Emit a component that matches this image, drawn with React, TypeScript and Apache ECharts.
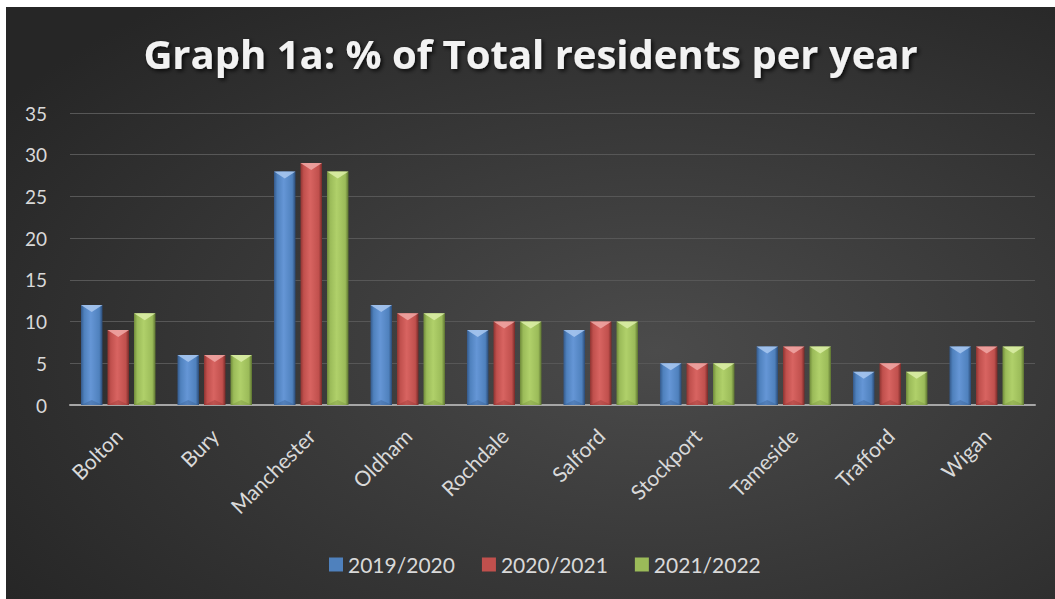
import React, { useEffect, useRef } from "react";
import * as echarts from "echarts";

const categories = ["Bolton", "Bury", "Manchester", "Oldham", "Rochdale", "Salford", "Stockport", "Tameside", "Trafford", "Wigan"];
const seriesNames = ["2019/2020", "2020/2021", "2021/2022"];
const values2019 = [12, 6, 28, 12, 9, 9, 5, 7, 4, 7];
const values2020 = [9, 6, 29, 11, 10, 10, 5, 7, 5, 7];
const values2021 = [11, 6, 28, 11, 10, 10, 5, 7, 4, 7];
const yTicks = { min: 0, max: 35, interval: 5 };

const palettes = [
  { base: "#4f81bd", dark: "#34598a", light: "#6596d6", bevel: "#a9c8f0", edge: "#2a4a75" },
  { base: "#c0504d", dark: "#8e3431", light: "#d86461", bevel: "#f0a8a6", edge: "#762a28" },
  { base: "#9bbb59", dark: "#6f8a3a", light: "#b0d06a", bevel: "#dcefa8", edge: "#5b7230" },
];

function makeSeries(name: string, values: number[], si: number) {
  const p = palettes[si];
  return {
    name,
    type: "custom",
    itemStyle: { color: p.base },
    encode: { x: 0, y: 1 },
    data: values.map((v, i) => [i, v]),
    renderItem: (params: any, api: any) => {
      const idx = api.value(0);
      const val = api.value(1);
      const base = api.coord([idx, 0]);
      const top = api.coord([idx, val]);
      const band = api.size([1, 0])[0];
      const w = band * 0.223;
      const cx = base[0] + (si - 1) * band * 0.2746;
      const x0 = cx - w / 2;
      const h = base[1] - top[1];
      const bev = Math.min(7, h);
      return {
        type: "group",
        children: [
          {
            type: "rect",
            shape: { x: x0, y: top[1], width: w, height: h },
            style: {
              fill: new echarts.graphic.LinearGradient(0, 0, 1, 0, [
                { offset: 0, color: p.dark },
                { offset: 0.15, color: p.base },
                { offset: 0.45, color: p.light },
                { offset: 0.85, color: p.base },
                { offset: 1, color: p.edge },
              ]),
            },
          },
          {
            type: "polygon",
            shape: { points: [[x0, top[1]], [x0 + w, top[1]], [cx, top[1] + bev]] },
            style: { fill: p.bevel, opacity: 0.85 },
          },
          {
            type: "polygon",
            shape: { points: [[x0, base[1]], [x0 + w, base[1]], [cx, base[1] - Math.min(5, h)]] },
            style: { fill: p.dark, opacity: 0.35 },
          },
        ],
      };
    },
  };
}

export default function App() {
  const ref = useRef<HTMLDivElement>(null);
  useEffect(() => {
    if (!ref.current) return;
    const chart = echarts.init(ref.current, null, { renderer: "svg" });
    chart.setOption({
      animation: false,
      backgroundColor: {
        type: "radial",
        x: 0.62,
        y: 0.58,
        r: 0.75,
        colorStops: [
          { offset: 0, color: "#4b4b4b" },
          { offset: 1, color: "#262626" },
        ],
      },
      title: {
        text: "Graph 1a: % of Total residents per year",
        left: "center",
        top: 21,
        textStyle: {
          fontFamily: "Open Sans",
          fontWeight: "bold",
          fontSize: 40,
          color: "#f2f2f2",
          textShadowColor: "rgba(0,0,0,0.8)",
          textShadowBlur: 4,
          textShadowOffsetX: 2,
          textShadowOffsetY: 2,
        },
      },
      legend: {
        data: seriesNames,
        top: 542,
        left: 318,
        icon: "rect",
        itemWidth: 14,
        itemHeight: 14,
        itemGap: 27,
        textStyle: { color: "#d9d9d9", fontSize: 21, fontFamily: "Lato" },
      },
      grid: { left: 64, right: 20, top: 106, bottom: 194 },
      xAxis: {
        type: "category",
        data: categories,
        axisLine: { lineStyle: { color: "#a6a6a6", width: 2 } },
        axisTick: { show: false },
        axisLabel: { rotate: 45, color: "#d9d9d9", fontSize: 21, fontFamily: "Lato", margin: 27 },
        splitLine: { show: false },
      },
      yAxis: {
        type: "value",
        min: yTicks.min,
        max: yTicks.max,
        interval: yTicks.interval,
        axisLine: { show: false },
        axisTick: { show: false },
        axisLabel: { color: "#d9d9d9", fontSize: 19, fontFamily: "Lato", margin: 23 },
        splitLine: { lineStyle: { color: "#575757", width: 1 } },
      },
      series: [
        makeSeries(seriesNames[0], values2019, 0),
        makeSeries(seriesNames[1], values2020, 1),
        makeSeries(seriesNames[2], values2021, 2),
      ],
    });
    return () => chart.dispose();
  }, []);
  return (
    <div style={{ position: "fixed", left: 0, top: 0, width: 1055, height: 599, background: "#ffffff" }}>
      <div ref={ref} style={{ position: "absolute", left: 6, top: 7, width: 1049, height: 592 }} />
    </div>
  );
}
